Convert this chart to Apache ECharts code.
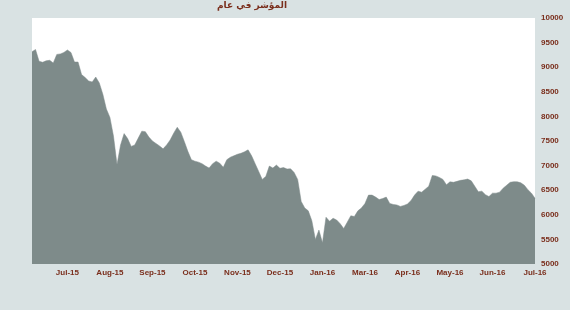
<!DOCTYPE html>
<html><head><meta charset="utf-8">
<script src="https://cdn.jsdelivr.net/npm/echarts@6/dist/echarts.min.js"></script>
<style>html,body{margin:0;padding:0;background:#d9e2e3;}#c{width:570px;height:310px;}</style>
</head><body><div id="c"></div>
<script>
const titleText = "المؤشر في عام";
const tickLabels = ["Jul-15","Aug-15","Sep-15","Oct-15","Nov-15","Dec-15","Jan-16","Mar-16","Apr-16","May-16","Jun-16","Jul-16"];
const firstLabelIndex = 10;
const labelStep = 12;
const indexValues = [
 9315,9360,9120,9100,9130,9140,9085,9260,9270,9300,
 9350,9300,9105,9105,8850,8790,8720,8700,8800,8680,
 8450,8150,7980,7600,7020,7420,7650,7550,7390,7420,
 7560,7700,7690,7580,7500,7450,7400,7340,7420,7520,
 7660,7780,7680,7490,7290,7120,7090,7070,7040,6990,
 6950,7040,7090,7050,6965,7120,7170,7200,7230,7250,
 7280,7320,7200,7040,6880,6720,6780,6990,6950,7010,
 6944,6960,6930,6935,6860,6720,6270,6140,6080,5880,
 5500,5690,5430,5950,5870,5930,5894,5820,5720,5850,
 5980,5965,6080,6140,6230,6400,6400,6360,6310,6330,
 6360,6230,6210,6200,6170,6190,6220,6290,6400,6480,
 6460,6520,6580,6800,6790,6760,6720,6610,6670,6660,
 6680,6700,6710,6727,6690,6580,6470,6480,6410,6370,
 6440,6440,6460,6540,6600,6660,6673,6670,6650,6600,
 6510,6440,6335
];
const categories = indexValues.map((v, i) => String(i));
const textColor = '#7a2e1c';
const chart = echarts.init(document.getElementById('c'));
chart.setOption({
  backgroundColor: '#d9e2e3',
  animation: false,
  title: {
    text: titleText, right: 283, top: 1, padding: 0,
    textStyle: {color: textColor, fontSize: 9, fontWeight: 'bold', fontFamily: 'DejaVu Sans'}
  },
  grid: {left: 32, right: 35, top: 18, bottom: 46, show: true, backgroundColor: '#ffffff', borderWidth: 0},
  xAxis: {
    type: 'category', data: categories, boundaryGap: false,
    axisLine: {show: false}, axisTick: {show: false}, splitLine: {show: false},
    axisLabel: {
      color: textColor, fontSize: 8, fontWeight: 'bold', fontFamily: 'Liberation Sans', margin: 5,
      interval: (i) => i >= firstLabelIndex && (i - firstLabelIndex) % labelStep === 0,
      formatter: (v, i) => tickLabels[(i - firstLabelIndex) / labelStep] || ''
    }
  },
  yAxis: {
    type: 'value', position: 'right', min: 5000, max: 10000, interval: 500,
    axisLine: {show: false}, axisTick: {show: false}, splitLine: {show: false},
    axisLabel: {color: textColor, fontSize: 8, fontWeight: 'bold', fontFamily: 'Liberation Sans', margin: 6,
      formatter: (v) => String(v)}
  },
  series: [{
    type: 'line', data: indexValues, showSymbol: false, symbol: 'none',
    lineStyle: {width: 0.5, color: '#7e8b8a'},
    areaStyle: {color: '#7e8b8a', opacity: 1, origin: 'start'}
  }]
});
</script>
</body></html>
